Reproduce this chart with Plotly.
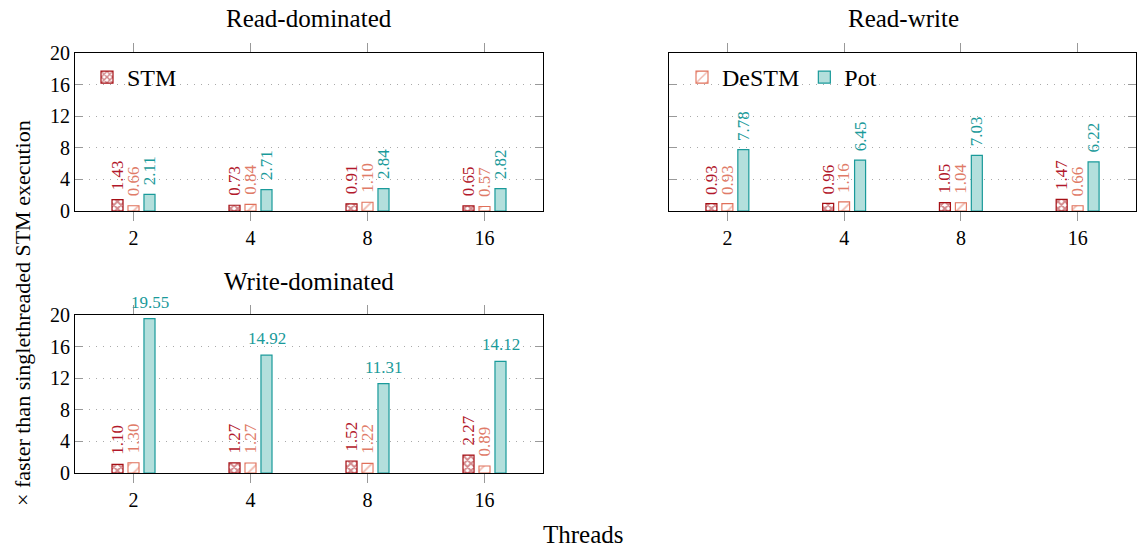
import plotly.graph_objects as go

threads = ["2", "4", "8", "16"]

rd_stm = [1.43, 0.73, 0.91, 0.65]
rd_destm = [0.66, 0.84, 1.10, 0.57]
rd_pot = [2.11, 2.71, 2.84, 2.82]

rw_stm = [0.93, 0.96, 1.05, 1.47]
rw_destm = [0.93, 1.16, 1.04, 0.66]
rw_pot = [7.78, 6.45, 7.03, 6.22]

wd_stm = [1.10, 1.27, 1.52, 2.27]
wd_destm = [1.30, 1.27, 1.22, 0.89]
wd_pot = [19.55, 14.92, 11.31, 14.12]

titles = ["Read-dominated", "Read-write", "Write-dominated"]
y_ticks = [0, 4, 8, 12, 16, 20]

W, H = 1137, 548
FONT = "Liberation Serif"
STM_C = "#a50f15"
DESTM_C = "#e0705a"
POT_LINE = "#1a9a9a"
POT_FILL = "#b3dfdc"
STM_TXT = "#b2182b"
DESTM_TXT = "#e07b68"
POT_TXT = "#1a9a9a"
SLOT_PX = 16

def px_x(a, b):
    return [a / W, b / W]

def px_y(top, bottom):
    return [1 - bottom / H, 1 - top / H]

panels = [
    dict(stm=rd_stm, destm=rd_destm, pot=rd_pot, xd=px_x(75, 543), yd=px_y(53, 211), potangle=-90),
    dict(stm=rw_stm, destm=rw_destm, pot=rw_pot, xd=px_x(669, 1136), yd=px_y(53, 211), potangle=-90),
    dict(stm=wd_stm, destm=wd_destm, pot=wd_pot, xd=px_x(75, 543), yd=px_y(315, 473), potangle=0),
]

fig = go.Figure()
annotations = []

for i, p in enumerate(panels):
    n = "" if i == 0 else str(i + 1)
    xa, ya = "x" + n, "y" + n
    fig.add_trace(go.Bar(
        x=threads, y=p["stm"], name="STM", xaxis=xa, yaxis=ya,
        marker=dict(color="white", line=dict(color=STM_C, width=1.2),
                    pattern=dict(shape="x", fgcolor=STM_C, bgcolor="white", size=5, solidity=0.6)),
        showlegend=(i == 0), legend="legend", hoverinfo="skip",
    ))
    fig.add_trace(go.Bar(
        x=threads, y=p["destm"], name="DeSTM", xaxis=xa, yaxis=ya,
        marker=dict(color="white", line=dict(color=DESTM_C, width=1.1),
                    pattern=dict(shape="/", fgcolor=DESTM_C, bgcolor="white", size=9, solidity=0.2)),
        showlegend=(i == 1), legend="legend2", hoverinfo="skip",
    ))
    fig.add_trace(go.Bar(
        x=threads, y=p["pot"], name="Pot", xaxis=xa, yaxis=ya,
        marker=dict(color=POT_FILL, line=dict(color=POT_LINE, width=1.2)),
        showlegend=(i == 1), legend="legend2", hoverinfo="skip",
    ))
    series = [(p["stm"], STM_TXT, -SLOT_PX, -90), (p["destm"], DESTM_TXT, 0, -90),
              (p["pot"], POT_TXT, SLOT_PX, p["potangle"])]
    for vals, col, dx, ang in series:
        for idx, v in enumerate(vals):
            annotations.append(dict(
                x=idx, y=v, xref=xa, yref=ya, text=f"{v:.2f}", showarrow=False,
                textangle=ang, xanchor="center", yanchor="bottom",
                xshift=dx, yshift=(8 if ang != 0 else 6), borderpad=0,
                font=dict(size=17, family=FONT, color=col)))
    xkw = dict(domain=p["xd"], anchor=ya, type="category", range=[-0.5, 3.5],
               showline=True, linecolor="black", linewidth=1.2, mirror="ticks",
               ticks="outside", ticklen=9, tickcolor="#999", tickwidth=1.3,
               tickfont=dict(size=20, family=FONT, color="black"), showgrid=False)
    ykw = dict(domain=p["yd"], anchor=xa, range=[0, 20], tickvals=y_ticks,
               showline=True, linecolor="black", linewidth=1.2, mirror="ticks",
               ticks="inside", ticklen=8, tickcolor="#999", tickwidth=1.3,
               showgrid=True, gridcolor="#aaa", griddash="1px,6px", gridwidth=1.3,
               zeroline=False, showticklabels=(i != 1),
               tickfont=dict(size=20, family=FONT, color="black"))
    fig.layout["xaxis" + n] = xkw
    fig.layout["yaxis" + n] = ykw

title_pos = [(309, 19), (903, 19), (309, 281)]
for t, (cx, cy) in zip(titles, title_pos):
    annotations.append(dict(text=t, x=cx / W, y=1 - cy / H, xref="paper", yref="paper",
                            showarrow=False, xanchor="center", yanchor="middle",
                            font=dict(size=25, family=FONT, color="black")))
annotations.append(dict(text="Threads", x=583 / W, y=1 - 534 / H, xref="paper", yref="paper",
                        showarrow=False, xanchor="center", yanchor="middle",
                        font=dict(size=25, family=FONT, color="black")))
annotations.append(dict(text="× faster than singlethreaded STM execution", x=22 / W, y=1 - 313 / H,
                        xref="paper", yref="paper", showarrow=False, textangle=-90,
                        xanchor="center", yanchor="middle",
                        font=dict(size=22, family=FONT, color="black")))

fig.update_layout(
    width=W, height=H, margin=dict(l=0, r=0, t=0, b=0, pad=0, autoexpand=False),
    paper_bgcolor="white", plot_bgcolor="white",
    barmode="group", bargap=0.59, bargroupgap=0.31,
    font=dict(family=FONT, color="black"),
    annotations=annotations,
    legend=dict(x=87 / W, y=1 - 55 / H, xanchor="left", yanchor="top", bgcolor="rgba(0,0,0,0)",
                font=dict(size=24, family=FONT), itemwidth=30, tracegroupgap=0),
    legend2=dict(x=682 / W, y=1 - 55 / H, xanchor="left", yanchor="top", orientation="h",
                 bgcolor="rgba(0,0,0,0)", font=dict(size=24, family=FONT), itemwidth=30),
)

fig.write_html("out.html")
